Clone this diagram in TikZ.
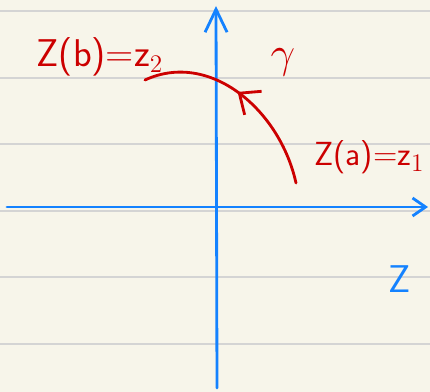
\documentclass[tikz,border=0pt]{standalone}
\usepackage{amsmath}
\usepackage{tikz}
\usepackage{xcolor}
\usetikzlibrary{arrows.meta,decorations.markings}

\definecolor{paper}{RGB}{247,245,234}
\definecolor{rule}{RGB}{212,212,212}
\definecolor{pen}{RGB}{204,0,0}
\definecolor{ink}{RGB}{20,130,255}

\begin{document}
\begin{tikzpicture}[x=0.02cm,y=-0.02cm,
		axis/.style={ink, line width=1.6pt, line cap=round},
		curve/.style={pen, line width=1.6pt, line cap=round},
		hand/.style={font=\sffamily\fontsize{22}{24}\selectfont, inner sep=0pt}]
				% Paper with ruled lines
				\fill[paper] (0,0) rectangle (430,392);
				\useasboundingbox (0,0) rectangle (430,392);
				\foreach \y in {11,78,144,211,277,344}
					\draw[rule, line width=0.8pt] (0,\y) -- (430,\y);
				
				% Axes
				\coordinate (left) at (7,207);
				\coordinate (right) at (428,207);
				\coordinate (bottom) at (217,388);
				\coordinate (top) at (216,6);
				\draw[axis, -{Straight Barb[length=2.6mm,width=3.6mm]}] (left) -- (right);
				\draw[axis, -{Straight Barb[length=4.6mm,width=4.4mm]}] (bottom) -- (top);
				
				% Path gamma from z1 to z2
				\coordinate (z1) at (296,183);
				\coordinate (z2) at (145,80);
				\draw[curve, postaction={decorate}, decoration={markings,
					mark=at position 0.53 with {\arrow{Straight Barb[length=3.4mm,width=5.8mm]}}}]
					(z1) .. controls (280,110) and (210,50) .. (z2);
				
				% Labels
				\node[hand, pen] (zb) at (100,57) {Z(b)=z$_2$};
				\node[hand, pen, font=\fontsize{34}{36}\selectfont] (gamma) at (283,62) {$\gamma$};
				\node[hand, pen, anchor=west, font=\sffamily\fontsize{19}{21}\selectfont] (za) at (314,157) {Z(a)=z$_1$};
				\node[hand, ink] (plane) at (400,279) {Z};
			\end{tikzpicture}
\end{document}
